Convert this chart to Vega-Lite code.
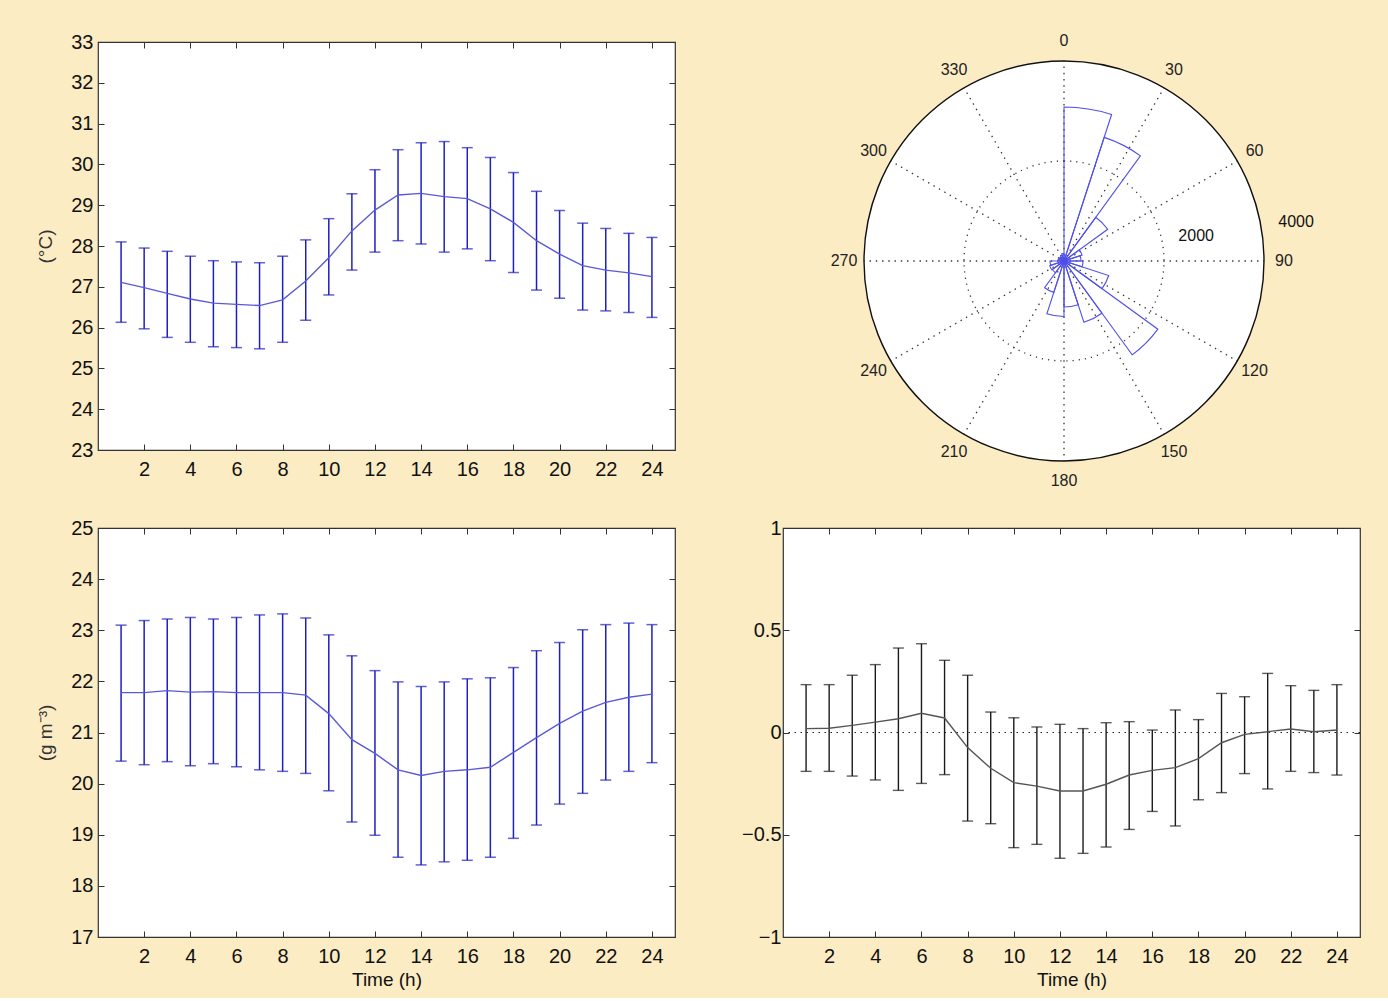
{
  "$schema": "https://vega.github.io/schema/vega-lite/v6.json",
  "background": "#FCECC4",
  "padding": {"left": 36, "top": 31, "right": 28, "bottom": 8},
  "bounds": "flush",
  "columns": 2,
  "spacing": {"row": 48, "column": 108},
  "config": {
    "view": {"fill": "white", "stroke": "#333333", "strokeWidth": 1.2},
    "axis": {"grid": false, "domain": false, "ticks": true, "tickSize": -6, "tickColor": "#333333", "tickWidth": 1, "labelFont": "Liberation Sans", "labelFontSize": 20, "labelColor": "#111111", "titleFont": "Liberation Sans", "titleFontWeight": "normal", "titleColor": "#111111", "titleFontSize": 19},
    "axisX": {"labelPadding": 15},
    "axisY": {"labelPadding": 11}
  },
  "datasets": {
    "temp": [
      {"h": 1, "m": 27.11, "lo": 26.13, "hi": 28.10},
      {"h": 2, "m": 26.98, "lo": 25.97, "hi": 27.95},
      {"h": 3, "m": 26.84, "lo": 25.76, "hi": 27.87},
      {"h": 4, "m": 26.70, "lo": 25.64, "hi": 27.75},
      {"h": 5, "m": 26.60, "lo": 25.53, "hi": 27.64},
      {"h": 6, "m": 26.57, "lo": 25.51, "hi": 27.61},
      {"h": 7, "m": 26.54, "lo": 25.48, "hi": 27.59},
      {"h": 8, "m": 26.68, "lo": 25.64, "hi": 27.75},
      {"h": 9, "m": 27.14, "lo": 26.18, "hi": 28.15},
      {"h": 10, "m": 27.71, "lo": 26.80, "hi": 28.67},
      {"h": 11, "m": 28.37, "lo": 27.41, "hi": 29.28},
      {"h": 12, "m": 28.88, "lo": 27.85, "hi": 29.87},
      {"h": 13, "m": 29.25, "lo": 28.13, "hi": 30.36},
      {"h": 14, "m": 29.29, "lo": 28.05, "hi": 30.53},
      {"h": 15, "m": 29.21, "lo": 27.85, "hi": 30.56},
      {"h": 16, "m": 29.16, "lo": 27.93, "hi": 30.41},
      {"h": 17, "m": 28.91, "lo": 27.64, "hi": 30.17},
      {"h": 18, "m": 28.58, "lo": 27.35, "hi": 29.80},
      {"h": 19, "m": 28.13, "lo": 26.92, "hi": 29.34},
      {"h": 20, "m": 27.80, "lo": 26.72, "hi": 28.87},
      {"h": 21, "m": 27.52, "lo": 26.43, "hi": 28.56},
      {"h": 22, "m": 27.41, "lo": 26.41, "hi": 28.43},
      {"h": 23, "m": 27.34, "lo": 26.37, "hi": 28.31},
      {"h": 24, "m": 27.25, "lo": 26.25, "hi": 28.21}
    ],
    "hum": [
      {"h": 1, "m": 21.78, "lo": 20.44, "hi": 23.10},
      {"h": 2, "m": 21.78, "lo": 20.37, "hi": 23.19},
      {"h": 3, "m": 21.82, "lo": 20.43, "hi": 23.22},
      {"h": 4, "m": 21.79, "lo": 20.35, "hi": 23.25},
      {"h": 5, "m": 21.80, "lo": 20.39, "hi": 23.22},
      {"h": 6, "m": 21.78, "lo": 20.33, "hi": 23.25},
      {"h": 7, "m": 21.78, "lo": 20.27, "hi": 23.30},
      {"h": 8, "m": 21.78, "lo": 20.24, "hi": 23.32},
      {"h": 9, "m": 21.73, "lo": 20.20, "hi": 23.24},
      {"h": 10, "m": 21.37, "lo": 19.86, "hi": 22.91},
      {"h": 11, "m": 20.86, "lo": 19.25, "hi": 22.50},
      {"h": 12, "m": 20.59, "lo": 18.99, "hi": 22.21},
      {"h": 13, "m": 20.27, "lo": 18.56, "hi": 21.99},
      {"h": 14, "m": 20.16, "lo": 18.41, "hi": 21.90},
      {"h": 15, "m": 20.24, "lo": 18.47, "hi": 21.99},
      {"h": 16, "m": 20.27, "lo": 18.50, "hi": 22.05},
      {"h": 17, "m": 20.32, "lo": 18.56, "hi": 22.07},
      {"h": 18, "m": 20.61, "lo": 18.93, "hi": 22.27},
      {"h": 19, "m": 20.90, "lo": 19.19, "hi": 22.60},
      {"h": 20, "m": 21.18, "lo": 19.60, "hi": 22.76},
      {"h": 21, "m": 21.42, "lo": 19.81, "hi": 23.01},
      {"h": 22, "m": 21.59, "lo": 20.07, "hi": 23.11},
      {"h": 23, "m": 21.69, "lo": 20.24, "hi": 23.14},
      {"h": 24, "m": 21.75, "lo": 20.41, "hi": 23.11}
    ],
    "third": [
      {"h": 1, "m": 0.019, "lo": -0.190, "hi": 0.234},
      {"h": 2, "m": 0.021, "lo": -0.190, "hi": 0.234},
      {"h": 3, "m": 0.035, "lo": -0.213, "hi": 0.280},
      {"h": 4, "m": 0.051, "lo": -0.232, "hi": 0.332},
      {"h": 5, "m": 0.067, "lo": -0.283, "hi": 0.413},
      {"h": 6, "m": 0.094, "lo": -0.249, "hi": 0.434},
      {"h": 7, "m": 0.071, "lo": -0.206, "hi": 0.353},
      {"h": 8, "m": -0.074, "lo": -0.433, "hi": 0.280},
      {"h": 9, "m": -0.175, "lo": -0.446, "hi": 0.100},
      {"h": 10, "m": -0.245, "lo": -0.563, "hi": 0.072},
      {"h": 11, "m": -0.262, "lo": -0.547, "hi": 0.027},
      {"h": 12, "m": -0.286, "lo": -0.615, "hi": 0.040},
      {"h": 13, "m": -0.286, "lo": -0.591, "hi": 0.019},
      {"h": 14, "m": -0.253, "lo": -0.560, "hi": 0.048},
      {"h": 15, "m": -0.208, "lo": -0.474, "hi": 0.053},
      {"h": 16, "m": -0.185, "lo": -0.386, "hi": 0.012},
      {"h": 17, "m": -0.172, "lo": -0.457, "hi": 0.110},
      {"h": 18, "m": -0.128, "lo": -0.329, "hi": 0.063},
      {"h": 19, "m": -0.050, "lo": -0.294, "hi": 0.191},
      {"h": 20, "m": -0.009, "lo": -0.201, "hi": 0.175},
      {"h": 21, "m": 0.004, "lo": -0.276, "hi": 0.289},
      {"h": 22, "m": 0.017, "lo": -0.190, "hi": 0.229},
      {"h": 23, "m": 0.004, "lo": -0.196, "hi": 0.206},
      {"h": 24, "m": 0.012, "lo": -0.208, "hi": 0.234}
    ],
    "zero": [{"z": 0}],
    "rose": [
      {"a0": 0, "a1": 18, "n": 3080},
      {"a0": 18, "a1": 36, "n": 2600},
      {"a0": 36, "a1": 54, "n": 1080},
      {"a0": 54, "a1": 72, "n": 380},
      {"a0": 72, "a1": 90, "n": 340},
      {"a0": 90, "a1": 108, "n": 380},
      {"a0": 108, "a1": 126, "n": 940},
      {"a0": 126, "a1": 144, "n": 2320},
      {"a0": 144, "a1": 162, "n": 1290},
      {"a0": 162, "a1": 180, "n": 920},
      {"a0": 180, "a1": 198, "n": 1110},
      {"a0": 198, "a1": 216, "n": 660},
      {"a0": 216, "a1": 234, "n": 290},
      {"a0": 234, "a1": 252, "n": 300},
      {"a0": 252, "a1": 270, "n": 280},
      {"a0": 270, "a1": 288, "n": 120},
      {"a0": 288, "a1": 306, "n": 100},
      {"a0": 306, "a1": 324, "n": 100},
      {"a0": 324, "a1": 342, "n": 120},
      {"a0": 342, "a1": 360, "n": 150}
    ],
    "disk": [{"a0": 0, "a1": 360, "r": 4000}],
    "ring": [{"a0": 0, "a1": 360, "r": 2000}],
    "spokes": [
      {"a": 0, "r": 4000, "r0": 0}, {"a": 30, "r": 4000, "r0": 0}, {"a": 60, "r": 4000, "r0": 0},
      {"a": 90, "r": 4000, "r0": 0}, {"a": 120, "r": 4000, "r0": 0}, {"a": 150, "r": 4000, "r0": 0},
      {"a": 180, "r": 4000, "r0": 0}, {"a": 210, "r": 4000, "r0": 0}, {"a": 240, "r": 4000, "r0": 0},
      {"a": 270, "r": 4000, "r0": 0}, {"a": 300, "r": 4000, "r0": 0}, {"a": 330, "r": 4000, "r0": 0}
    ],
    "angles": [
      {"a": 0, "t": "0"}, {"a": 30, "t": "30"}, {"a": 60, "t": "60"}, {"a": 90, "t": "90"},
      {"a": 120, "t": "120"}, {"a": 150, "t": "150"}, {"a": 180, "t": "180"}, {"a": 210, "t": "210"},
      {"a": 240, "t": "240"}, {"a": 270, "t": "270"}, {"a": 300, "t": "300"}, {"a": 330, "t": "330"}
    ],
    "rlabels": [{"a": 79.3, "r": 2690, "t": "2000"}, {"a": 80.5, "r": 4706, "t": "4000"}]
  },
  "concat": [
    {
      "width": 577, "height": 408,
      "data": {"name": "temp"},
      "layer": [
        {"mark": {"type": "rule", "color": "#1f1fbf", "strokeWidth": 1.5},
         "encoding": {
           "x": {"field": "h", "type": "quantitative", "scale": {"domain": [0, 25], "nice": false, "zero": false}, "axis": {"values": [2,4,6,8,10,12,14,16,18,20,22,24], "title": null}},
           "y": {"field": "lo", "type": "quantitative", "scale": {"domain": [23, 33], "nice": false, "zero": false}, "axis": {"values": [23,24,25,26,27,28,29,30,31,32,33], "title": "(°C)", "titleFontSize": 19, "titlePadding": 15, "titleColor": "#333333"}},
           "y2": {"field": "hi"}}},
        {"mark": {"type": "tick", "orient": "horizontal", "size": 11, "thickness": 1.5, "color": "#1f1fbf"},
         "encoding": {"x": {"field": "h", "type": "quantitative", "axis": null}, "y": {"field": "lo", "type": "quantitative", "axis": null}}},
        {"mark": {"type": "tick", "orient": "horizontal", "size": 11, "thickness": 1.5, "color": "#1f1fbf"},
         "encoding": {"x": {"field": "h", "type": "quantitative", "axis": null}, "y": {"field": "hi", "type": "quantitative", "axis": null}}},
        {"mark": {"type": "line", "color": "#5a5ad6", "strokeWidth": 1.4},
         "encoding": {
           "x": {"field": "h", "type": "quantitative", "axis": {"orient": "top", "labels": false, "values": [2,4,6,8,10,12,14,16,18,20,22,24], "title": null}},
           "y": {"field": "m", "type": "quantitative", "axis": {"orient": "right", "labels": false, "values": [23,24,25,26,27,28,29,30,31,32,33], "title": null}}}}
      ],
      "resolve": {"axis": {"x": "independent", "y": "independent"}}
    },
    {
      "width": 562, "height": 438,
      "view": {"fill": null, "stroke": null},
      "layer": [
        {"data": {"name": "disk"},
         "mark": {"type": "arc", "fill": "white", "stroke": null},
         "encoding": {
           "theta": {"field": "a0", "type": "quantitative", "stack": null, "scale": {"domain": [0, 360], "range": [0, 6.283185307179586]}},
           "theta2": {"field": "a1"},
           "radius": {"field": "r", "type": "quantitative", "stack": null, "scale": {"type": "linear", "domain": [0, 4000], "range": [0, 200], "zero": true}}}},
        {"data": {"name": "ring"},
         "mark": {"type": "arc", "filled": false, "color": "#333333", "strokeWidth": 1.3, "strokeDash": [1.2, 5]},
         "encoding": {
           "theta": {"field": "a0", "type": "quantitative", "stack": null},
           "theta2": {"field": "a1"},
           "radius": {"field": "r", "type": "quantitative", "stack": null}}},
        {"data": {"name": "spokes"},
         "mark": {"type": "arc", "filled": false, "color": "#333333", "strokeWidth": 1.3, "strokeDash": [0.7, 5.55]},
         "encoding": {
           "theta": {"field": "a", "type": "quantitative", "stack": null},
           "theta2": {"field": "a"},
           "radius": {"field": "r", "type": "quantitative", "stack": null},
           "radius2": {"field": "r0"}}},
        {"data": {"name": "rose"},
         "mark": {"type": "arc", "filled": false, "color": "#4f4fe8", "strokeWidth": 1.1},
         "encoding": {
           "theta": {"field": "a0", "type": "quantitative", "stack": null},
           "theta2": {"field": "a1"},
           "radius": {"field": "n", "type": "quantitative", "stack": null}}},
        {"data": {"name": "disk"},
         "mark": {"type": "arc", "filled": false, "color": "#111111", "strokeWidth": 1.4},
         "encoding": {
           "theta": {"field": "a0", "type": "quantitative", "stack": null},
           "theta2": {"field": "a1"},
           "radius": {"field": "r", "type": "quantitative", "stack": null}}},
        {"data": {"name": "angles"},
         "mark": {"type": "text", "font": "Liberation Sans", "fontSize": 16, "color": "#222222", "align": "center", "baseline": "middle"},
         "encoding": {
           "theta": {"field": "a", "type": "quantitative", "stack": null},
           "radius": {"datum": 4400, "type": "quantitative"},
           "text": {"field": "t"}}},
        {"data": {"name": "rlabels"},
         "mark": {"type": "text", "font": "Liberation Sans", "fontSize": 16, "color": "#111111", "align": "center", "baseline": "middle"},
         "encoding": {
           "theta": {"field": "a", "type": "quantitative", "stack": null},
           "radius": {"field": "r", "type": "quantitative", "stack": null},
           "text": {"field": "t"}}}
      ]
    },
    {
      "width": 577, "height": 409,
      "data": {"name": "hum"},
      "layer": [
        {"mark": {"type": "rule", "color": "#1f1fbf", "strokeWidth": 1.5},
         "encoding": {
           "x": {"field": "h", "type": "quantitative", "scale": {"domain": [0, 25], "nice": false, "zero": false}, "axis": {"values": [2,4,6,8,10,12,14,16,18,20,22,24], "title": "Time (h)", "titlePadding": 4}},
           "y": {"field": "lo", "type": "quantitative", "scale": {"domain": [17, 25], "nice": false, "zero": false}, "axis": {"values": [17,18,19,20,21,22,23,24,25], "title": "(g m⁻³)", "titleFontSize": 19, "titlePadding": 15, "titleColor": "#333333"}},
           "y2": {"field": "hi"}}},
        {"mark": {"type": "tick", "orient": "horizontal", "size": 11, "thickness": 1.5, "color": "#1f1fbf"},
         "encoding": {"x": {"field": "h", "type": "quantitative", "axis": null}, "y": {"field": "lo", "type": "quantitative", "axis": null}}},
        {"mark": {"type": "tick", "orient": "horizontal", "size": 11, "thickness": 1.5, "color": "#1f1fbf"},
         "encoding": {"x": {"field": "h", "type": "quantitative", "axis": null}, "y": {"field": "hi", "type": "quantitative", "axis": null}}},
        {"mark": {"type": "line", "color": "#5a5ad6", "strokeWidth": 1.4},
         "encoding": {
           "x": {"field": "h", "type": "quantitative", "axis": {"orient": "top", "labels": false, "values": [2,4,6,8,10,12,14,16,18,20,22,24], "title": null}},
           "y": {"field": "m", "type": "quantitative", "axis": {"orient": "right", "labels": false, "values": [17,18,19,20,21,22,23,24,25], "title": null}}}}
      ],
      "resolve": {"axis": {"x": "independent", "y": "independent"}}
    },
    {
      "width": 577, "height": 409,
      "layer": [
        {"data": {"name": "zero"},
         "mark": {"type": "rule", "color": "#222222", "strokeWidth": 1.2, "strokeDash": [1.5, 4.5]},
         "encoding": {"y": {"field": "z", "type": "quantitative", "axis": null}}},
        {"data": {"name": "third"},
         "mark": {"type": "rule", "color": "#1a1a1a", "strokeWidth": 1.4},
         "encoding": {
           "x": {"field": "h", "type": "quantitative", "scale": {"domain": [0, 25], "nice": false, "zero": false}, "axis": {"values": [2,4,6,8,10,12,14,16,18,20,22,24], "title": "Time (h)", "titlePadding": 4}},
           "y": {"field": "lo", "type": "quantitative", "scale": {"domain": [-1, 1], "nice": false, "zero": false}, "axis": {"values": [-1,-0.5,0,0.5,1], "format": ".1~f", "title": null, "labelPadding": 8}},
           "y2": {"field": "hi"}}},
        {"data": {"name": "third"},
         "mark": {"type": "tick", "orient": "horizontal", "size": 11, "thickness": 1.4, "color": "#1a1a1a"},
         "encoding": {"x": {"field": "h", "type": "quantitative", "axis": null}, "y": {"field": "lo", "type": "quantitative", "axis": null}}},
        {"data": {"name": "third"},
         "mark": {"type": "tick", "orient": "horizontal", "size": 11, "thickness": 1.4, "color": "#1a1a1a"},
         "encoding": {"x": {"field": "h", "type": "quantitative", "axis": null}, "y": {"field": "hi", "type": "quantitative", "axis": null}}},
        {"data": {"name": "third"},
         "mark": {"type": "line", "color": "#555555", "strokeWidth": 1.4},
         "encoding": {
           "x": {"field": "h", "type": "quantitative", "axis": {"orient": "top", "labels": false, "values": [2,4,6,8,10,12,14,16,18,20,22,24], "title": null}},
           "y": {"field": "m", "type": "quantitative", "axis": {"orient": "right", "labels": false, "values": [-1,-0.5,0,0.5,1], "title": null}}}}
      ],
      "resolve": {"axis": {"x": "independent", "y": "independent"}}
    }
  ]
}
